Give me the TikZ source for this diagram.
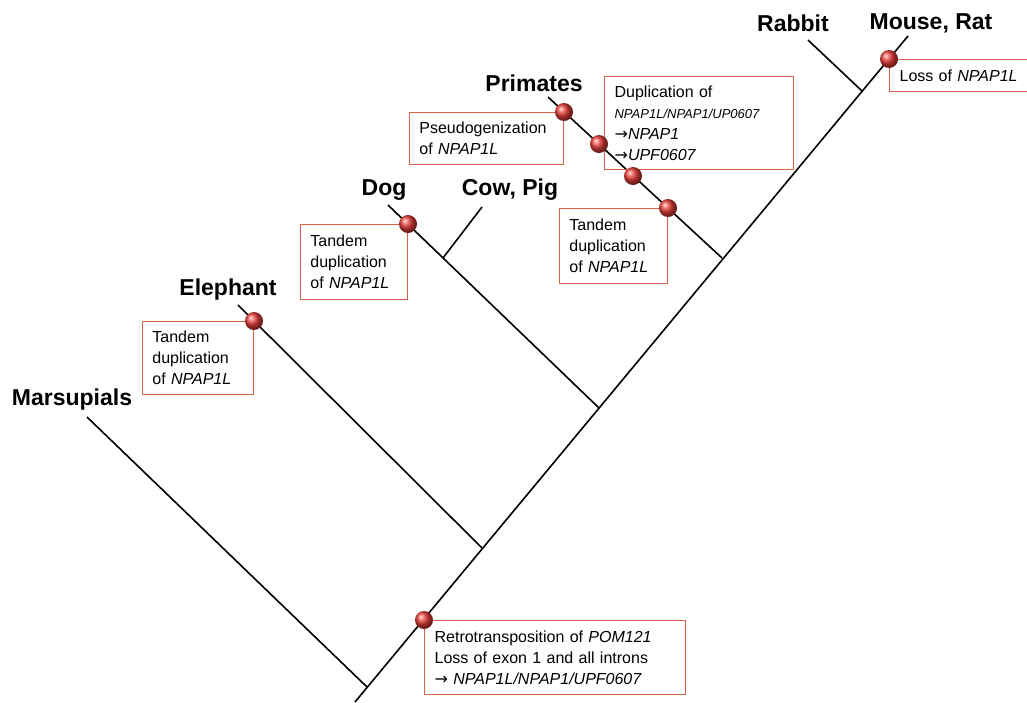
\documentclass[tikz,border=0pt]{standalone}
\usepackage{fontspec}
\setmainfont{Liberation Sans}
\newfontfamily\arrowfont{DejaVu Sans}
\newcommand{\yields}{{\arrowfont →}}
\definecolor{boxred}{RGB}{216,98,70}
\definecolor{dotred}{RGB}{232,62,58}
\tikzset{
  taxon/.style={font=\fontsize{23}{27}\selectfont\bfseries},
  event/.style={draw=boxred, line width=1.2pt, align=left, inner xsep=10pt, inner ysep=0pt,
    font=\fontsize{16}{21}\selectfont},
  hit/.style={circle, shading=ball, ball color=dotred, minimum size=18pt, inner sep=0pt},
  branch/.style={line width=1.6pt}
}
\begin{document}
\begin{tikzpicture}[x=1pt, y=-1pt]
\useasboundingbox (0,0) rectangle (1027,702);
\clip (0,0) rectangle (1027,702);
% tree points
\coordinate (base) at (355,702);
\coordinate (root) at (367,687);
\coordinate (marsup) at (87,417);
\coordinate (eleJ) at (482,548);
\coordinate (ele) at (238,305);
\coordinate (dogJ) at (599,408);
\coordinate (dog) at (388,205);
\coordinate (cowJ) at (443,258);
\coordinate (cow) at (482,207);
\coordinate (priJ) at (722,258);
\coordinate (pri) at (548,97);
\coordinate (rabJ) at (862,91);
\coordinate (rab) at (808,40);
\coordinate (mouse) at (908,36);
% taxa
\node[taxon] (tMars) at (72,400) {Marsupials};
\node[taxon] (tEle) at (228,290) {Elephant};
\node[taxon] (tDog) at (384,190) {Dog};
\node[taxon] (tCow) at (510,190) {Cow, Pig};
\node[taxon] (tPri) at (534,83) {Primates};
\node[taxon] (tRab) at (793,23) {Rabbit};
\node[taxon] (tMou) at (931,23) {Mouse, Rat};
% branches
\path[draw,branch] (base) -- (mouse);
\path[draw,branch] (marsup) -- (root);
\path[draw,branch] (ele) -- (eleJ);
\path[draw,branch] (dog) -- (dogJ);
\path[draw,branch] (cow) -- (cowJ);
\path[draw,branch] (pri) -- (priJ);
\path[draw,branch] (rab) -- (rabJ);
% events
\coordinate (hEle) at (254,321);
\coordinate (hDog) at (408,224);
\coordinate (hPri1) at (564,112);
\coordinate (hPri2) at (599,144);
\coordinate (hPri3) at (633,176);
\coordinate (hPri4) at (668,208);
\coordinate (hMou) at (889,59);
\coordinate (hRoot) at (424,620);
\node[event, anchor=north east, text width=134pt, minimum height=52pt] (bPseudo) at (hPri1)
  {Pseudogenization\\of \textit{NPAP1L}};
\node[event, anchor=north west, text width=169pt, minimum height=93pt] (bDup) at (604,76)
  {Duplication of\\{\fontsize{13}{19}\selectfont\textit{NPAP1L/NPAP1/UP0607}}\\
   \yields\textit{NPAP1}\\\yields\textit{UPF0607}};
\node[event, anchor=north east, text width=88pt, minimum height=75pt] (bTanPri) at (hPri4)
  {Tandem\\duplication\\of \textit{NPAP1L}};
\node[event, anchor=north east, text width=87pt, minimum height=75pt] (bTanDog) at (hDog)
  {Tandem\\duplication\\of \textit{NPAP1L}};
\node[event, anchor=north east, text width=91pt, minimum height=73pt] (bTanEle) at (hEle)
  {Tandem\\duplication\\of \textit{NPAP1L}};
\node[event, anchor=north west, text width=150pt, minimum height=32pt] (bLoss) at (hMou)
  {Loss of \textit{NPAP1L}};
\node[event, anchor=north west, text width=241pt, minimum height=74pt] (bRetro) at (hRoot)
  {Retrotransposition of \textit{POM121}\\Loss of exon 1 and all introns\\\yields{} \textit{NPAP1L/NPAP1/UPF0607}};
% dots
\foreach \h in {hEle,hDog,hPri1,hPri2,hPri3,hPri4,hMou,hRoot}
  \node[hit] at (\h) {};
\end{tikzpicture}
\end{document}
